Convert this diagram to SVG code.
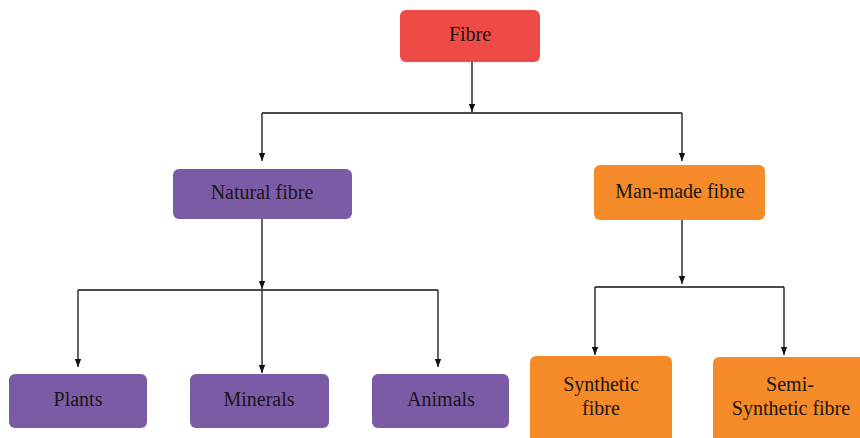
<svg xmlns="http://www.w3.org/2000/svg" width="860" height="438" viewBox="0 0 860 438">
<defs>
<marker id="arr" viewBox="0 0 8 8" refX="8" refY="4" markerWidth="8" markerHeight="8" markerUnits="userSpaceOnUse" orient="auto">
<path d="M0,0.8 L8,4 L0,7.2 Z" fill="#111"/>
</marker>
<style>
.red{fill:#ef4b46}
.pur{fill:#7b5aa6}
.org{fill:#f48a28}
.t{font-family:'Liberation Serif','DejaVu Serif',serif;font-size:20px;fill:#1a1718;text-anchor:middle}
.c{fill:none;stroke:#111;stroke-width:1.3}
</style>
</defs>
<rect width="860" height="438" fill="#fff"/>
<g id="connectors">
<path class="c" d="M472,62 V112" marker-end="url(#arr)"/>
<path class="c" d="M262,113 H682"/>
<path class="c" d="M262,113 V161" marker-end="url(#arr)"/>
<path class="c" d="M682,113 V161" marker-end="url(#arr)"/>
<path class="c" d="M262,219 V289" marker-end="url(#arr)"/>
<path class="c" d="M78,290 H438"/>
<path class="c" d="M78,290 V367" marker-end="url(#arr)"/>
<path class="c" d="M262,290 V373" marker-end="url(#arr)"/>
<path class="c" d="M438,290 V367" marker-end="url(#arr)"/>
<path class="c" d="M682,220 V284" marker-end="url(#arr)"/>
<path class="c" d="M595,287 H784"/>
<path class="c" d="M595,287 V355" marker-end="url(#arr)"/>
<path class="c" d="M784,287 V355" marker-end="url(#arr)"/>
</g>
<g id="fibre"><rect class="red" x="400" y="10" width="140" height="52" rx="6"/><text class="t" x="470" y="41" font-family="Liberation Serif, serif">Fibre</text></g>
<g id="natural"><rect class="pur" x="173" y="169" width="179" height="50" rx="6"/><text class="t" x="262" y="199" font-family="Liberation Serif, serif">Natural fibre</text></g>
<g id="manmade"><rect class="org" x="594" y="165" width="171" height="55" rx="6"/><text class="t" x="680" y="198" font-family="Liberation Serif, serif">Man-made fibre</text></g>
<g id="plants"><rect class="pur" x="9" y="374" width="138" height="54" rx="6"/><text class="t" x="78" y="406" font-family="Liberation Serif, serif">Plants</text></g>
<g id="minerals"><rect class="pur" x="190" y="374" width="139" height="54" rx="6"/><text class="t" x="259" y="406" font-family="Liberation Serif, serif">Minerals</text></g>
<g id="animals"><rect class="pur" x="372" y="374" width="137" height="54" rx="6"/><text class="t" x="441" y="406" font-family="Liberation Serif, serif">Animals</text></g>
<g id="synthetic"><rect class="org" x="530" y="356" width="142" height="90" rx="6"/><text class="t" x="601" y="391" font-family="Liberation Serif, serif">Synthetic</text><text class="t" x="601" y="415" font-family="Liberation Serif, serif">fibre</text></g>
<g id="semisynthetic"><rect class="org" x="713" y="357" width="160" height="90" rx="6"/><text class="t" x="790" y="391" font-family="Liberation Serif, serif">Semi-</text><text class="t" x="791" y="415" font-family="Liberation Serif, serif">Synthetic fibre</text></g>
</svg>
